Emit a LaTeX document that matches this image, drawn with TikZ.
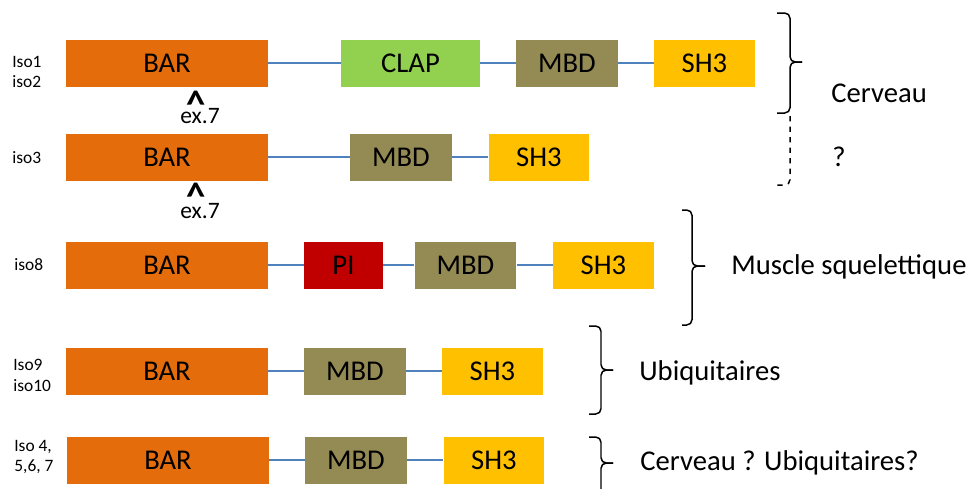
\documentclass[tikz,border=0pt]{standalone}
\usepackage{fontspec}
\setmainfont{Carlito}

\definecolor{barorange}{HTML}{E46C0A}
\definecolor{clapgreen}{HTML}{92D050}
\definecolor{mbdolive}{HTML}{948A54}
\definecolor{shyellow}{HTML}{FFC000}
\definecolor{pired}{HTML}{C00000}
\definecolor{linkblue}{HTML}{4F81BD}

\begin{document}
\begin{tikzpicture}[x=0.02cm, y=-0.02cm,
	dombox/.style={minimum height=0.94cm, inner sep=0pt, font=\fontsize{16.3}{19}\selectfont},
	bardom/.style={dombox, fill=barorange, minimum width=4.04cm},
	clapdom/.style={dombox, fill=clapgreen, minimum width=2.78cm},
	mbddom/.style={dombox, fill=mbdolive, minimum width=2.03cm},
	shdom/.style={dombox, fill=shyellow, minimum width=2.02cm},
	pidom/.style={dombox, fill=pired, minimum width=1.58cm},
	link/.style={draw=linkblue, line width=0.85pt},
	isolabel/.style={anchor=west, align=left, inner sep=0pt, font=\fontsize{9.9}{11.9}\selectfont},
	tissue/.style={anchor=west, inner sep=0pt, font=\fontsize{16.3}{19}\selectfont},
	hat/.style={anchor=north, inner sep=0pt, font=\fontsize{22}{22}\selectfont\bfseries},
	exon/.style={inner sep=0pt, font=\fontsize{13.4}{16}\selectfont},
	accolade/.style={line width=0.85pt, rounded corners=3pt}]

		\useasboundingbox (0,0) rectangle (975,488);

		% make the domain boxes, one row per isoform group
		\node[bardom] (bar1) at (167,63) {BAR};
		\node[clapdom] (clap1) at (410.5,63) {CLAP};
		\node[mbddom] (mbd1) at (567,63) {MBD};
		\node[shdom] (sh1) at (704.5,63) {SH3};

		\node[bardom] (bar2) at (167,157) {BAR};
		\node[mbddom] (mbd2) at (401,157) {MBD};
		\node[shdom] (sh2) at (539,157) {SH3};

		\node[bardom] (bar3) at (167,265) {BAR};
		\node[pidom] (pi3) at (343.5,265) {PI};
		\node[mbddom] (mbd3) at (465.5,265) {MBD};
		\node[shdom] (sh3) at (603.5,265) {SH3};

		\node[bardom] (bar4) at (167,371) {BAR};
		\node[mbddom] (mbd4) at (355,371) {MBD};
		\node[shdom] (sh4) at (492.5,371) {SH3};

		\node[bardom] (bar5) at (168,460) {BAR};
		\node[mbddom] (mbd5) at (356,460) {MBD};
		\node[shdom] (sh5) at (494,460) {SH3};

		% make the linkers between domains
		\draw[link] (bar1) -- (clap1) (clap1) -- (mbd1) (mbd1) -- (sh1);
		\draw[link] (bar2) -- (mbd2) (mbd2) -- (sh2);
		\draw[link] (bar3) -- (pi3) (pi3) -- (mbd3) (mbd3) -- (sh3);
		\draw[link] (bar4) -- (mbd4) (mbd4) -- (sh4);
		\draw[link] (bar5) -- (mbd5) (mbd5) -- (sh5);

		% make the isoform names
		\node[isolabel] (iso12) at (12,72) {Iso1\\iso2};
		\node[isolabel] (iso3) at (12,158) {iso3};
		\node[isolabel] (iso8) at (14,265) {iso8};
		\node[isolabel] (iso910) at (13,375) {Iso9\\iso10};
		\node[isolabel] (iso47) at (14,457) {Iso 4,\\5,6, 7};

		% make the exon 7 marks
		\node[hat] (hat1) at (196,91) {\raisebox{-0.32em}[\dimexpr\height-0.32em][0pt]{\textasciicircum}};
		\node[exon] (ex1) at (200,116) {ex.7};
		\node[hat] (hat2) at (196,183) {\raisebox{-0.32em}[\dimexpr\height-0.32em][0pt]{\textasciicircum}};
		\node[exon] (ex2) at (200,211) {ex.7};

		% make the braces
		\draw[accolade] (777,13) -- (790,13) -- (790,62) -- (802,62);
		\draw[accolade] (802,62) -- (790,62) -- (790,113) -- (777,113);
		\draw[accolade, dashed] (790,116) -- (790,185) -- (777,185);
		\draw[accolade] (682,210) -- (692,210) -- (692,266) -- (705,266);
		\draw[accolade] (705,266) -- (692,266) -- (692,325) -- (682,325);
		\draw[accolade] (589,326) -- (601,326) -- (601,370) -- (613,370);
		\draw[accolade] (613,370) -- (601,370) -- (601,414) -- (589,414);
		\draw[accolade] (589,437) -- (601,437) -- (601,463) -- (613,463);
		\draw[accolade] (613,463) -- (601,463) -- (601,492);

		% make the tissue names
		\node[tissue] (cerveau) at (831,93) {Cerveau};
		\node[tissue] (unknown) at (832,157) {?};
		\node[tissue] (muscle) at (731,267) {Muscle squelettique};
		\node[tissue] (ubiq) at (639,373) {Ubiquitaires};
		\node[tissue] (mixed) at (640,463) {Cerveau ? Ubiquitaires?};

\end{tikzpicture}
\end{document}
